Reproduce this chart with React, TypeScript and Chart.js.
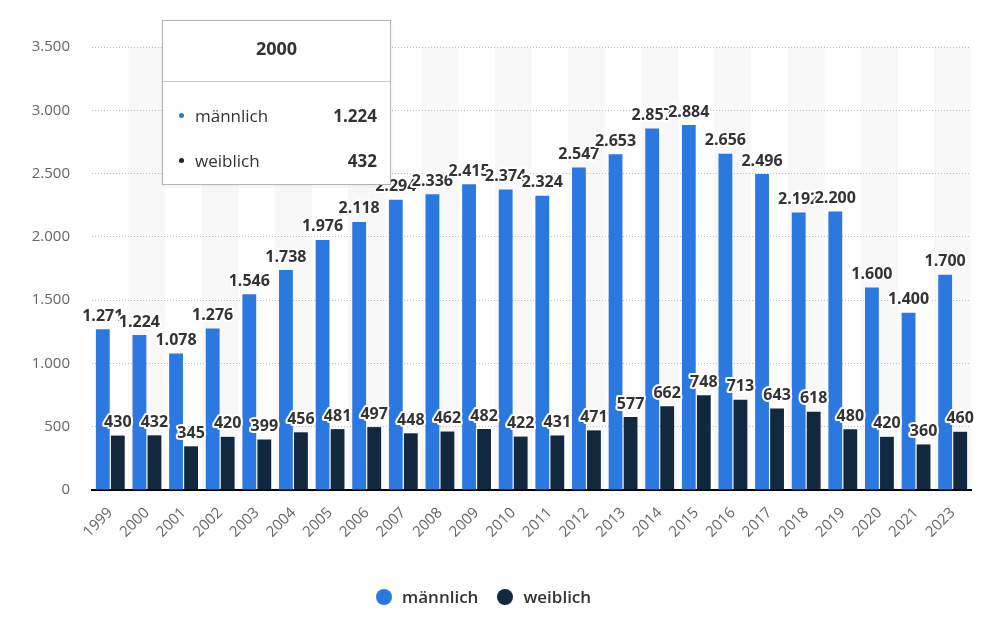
import React, { useEffect, useRef } from 'react';
import { Chart, registerables } from 'chart.js';

Chart.register(...registerables);

const years = ['1999', '2000', '2001', '2002', '2003', '2004', '2005', '2006', '2007', '2008', '2009', '2010', '2011', '2012', '2013', '2014', '2015', '2016', '2017', '2018', '2019', '2020', '2021', '2023'];
const maleValues = [1271, 1224, 1078, 1276, 1546, 1738, 1976, 2118, 2294, 2336, 2415, 2374, 2324, 2547, 2653, 2857, 2884, 2656, 2496, 2192, 2200, 1600, 1400, 1700];
const femaleValues = [430, 432, 345, 420, 399, 456, 481, 497, 448, 462, 482, 422, 431, 471, 577, 662, 748, 713, 643, 618, 480, 420, 360, 460];
const seriesLabels = ['männlich', 'weiblich'];
const seriesColors = ['#2b78e0', '#12283f'];
const tooltipIndex = 1;

const FONT = '"Open Sans", "Noto Sans", sans-serif';

// German thousands separator
const fmt = (v: number) => String(Math.round(v)).replace(/\B(?=(\d{3})+(?!\d))/g, '.');

// light stripes behind every second category
const stripePlugin = {
    id: 'stripes',
    beforeDraw(chart: any) {
        const { ctx, chartArea, scales } = chart;
        const xs = scales.x;
        const w = (xs.right - xs.left) / years.length;
        ctx.save();
        ctx.fillStyle = '#f8f8f8';
        years.forEach((_, i) => {
            if (i % 2 === 1) {
                const cx = xs.getPixelForValue(i);
                ctx.fillRect(cx - w / 2, chartArea.top, w, chartArea.bottom - chartArea.top);
            }
        });
        ctx.restore();
    },
};

// value labels above bars, white halo
const labelPlugin = {
    id: 'valueLabels',
    afterDatasetsDraw(chart: any) {
        const { ctx } = chart;
        ctx.save();
        ctx.font = `bold 16px ${FONT}`;
        ctx.textAlign = 'center';
        ctx.textBaseline = 'bottom';
        ctx.lineJoin = 'round';
        chart.data.datasets.forEach((ds: any, di: number) => {
            const meta = chart.getDatasetMeta(di);
            meta.data.forEach((bar: any, i: number) => {
                const text = fmt(ds.data[i]);
                const y = bar.y - 5;
                ctx.lineWidth = 4;
                ctx.strokeStyle = '#ffffff';
                ctx.strokeText(text, bar.x, y);
                ctx.fillStyle = '#333333';
                ctx.fillText(text, bar.x, y);
            });
        });
        ctx.restore();
    },
};

const BarChart: React.FC = () => {
    const canvasRef = useRef<HTMLCanvasElement>(null);
    const chartRef = useRef<Chart | null>(null);

    useEffect(() => {
        if (!canvasRef.current) return;
        if (chartRef.current) chartRef.current.destroy();

        chartRef.current = new Chart(canvasRef.current, {
            type: 'bar',
            data: {
                labels: years,
                datasets: [
                    { label: seriesLabels[0], data: maleValues, backgroundColor: seriesColors[0] },
                    { label: seriesLabels[1], data: femaleValues, backgroundColor: seriesColors[1] },
                ],
            },
            options: {
                animation: false,
                responsive: true,
                maintainAspectRatio: false,
                layout: { padding: { left: 0, right: 14, top: 47, bottom: 65 } },
                datasets: { bar: { categoryPercentage: 0.82, barPercentage: 0.92 } },
                scales: {
                    x: {
                        grid: { display: false },
                        border: { display: true, color: '#000', width: 2 },
                        ticks: {
                            color: '#666',
                            font: { family: FONT, size: 15 },
                            maxRotation: 45,
                            minRotation: 45,
                            padding: 6,
                        },
                        afterFit: (scale: any) => {
                            scale.height = 70;
                        },
                    },
                    y: {
                        min: 0,
                        max: 3500,
                        grid: { color: '#bbbbbb', drawTicks: false },
                        border: { display: false, dash: [1, 2] },
                        ticks: {
                            stepSize: 500,
                            color: '#666',
                            font: { family: FONT, size: 15 },
                            padding: 22,
                            callback: (v: any) => fmt(Number(v)),
                        },
                        afterFit: (scale: any) => {
                            scale.width = 92;
                        },
                    },
                },
                plugins: {
                    legend: { display: false },
                    tooltip: { enabled: false },
                },
            },
            plugins: [stripePlugin, labelPlugin],
        });

        return () => {
            if (chartRef.current) {
                chartRef.current.destroy();
                chartRef.current = null;
            }
        };
    }, []);

    return <canvas ref={canvasRef} />;
};

// legend below the chart
const Legend: React.FC = () => (
    <div
        style={{
            position: 'absolute',
            left: 376,
            top: 585,
            display: 'flex',
            alignItems: 'center',
            fontFamily: FONT,
            fontSize: 17,
            fontWeight: 600,
            color: '#333',
            lineHeight: '24px',
        }}
    >
        {seriesLabels.map((name, i) => (
            <div key={name} style={{ display: 'flex', alignItems: 'center', marginRight: i === 0 ? 19 : 0 }}>
                <span style={{ width: 16, height: 16, borderRadius: '50%', background: seriesColors[i], marginRight: 10 }} />
                <span>{name}</span>
            </div>
        ))}
    </div>
);

// static tooltip box as in the reference
const TooltipBox: React.FC = () => (
    <div
        style={{
            position: 'absolute',
            left: 162,
            top: 20,
            width: 227,
            height: 163,
            background: '#fff',
            border: '1px solid #b5b5b5',
            boxShadow: '0 1px 3px rgba(0,0,0,0.08)',
            fontFamily: FONT,
            color: '#333',
            boxSizing: 'content-box',
        }}
    >
        <div style={{ height: 60, display: 'flex', alignItems: 'center', justifyContent: 'center', fontWeight: 700, fontSize: 18 }}>
            <span style={{ position: 'relative', top: -3 }}>{years[tooltipIndex]}</span>
        </div>
        <div style={{ borderTop: '1px solid #ccc' }} />
        {[maleValues, femaleValues].map((vals, si) => (
            <div
                key={si}
                style={{
                    height: 45,
                    marginTop: si === 0 ? 11 : 0,
                    display: 'flex',
                    alignItems: 'center',
                    padding: '0 13px 0 16px',
                    fontSize: 17,
                }}
            >
                <span style={{ width: 5, height: 5, borderRadius: '50%', background: seriesColors[si], marginRight: 11 }} />
                <span style={{ flex: 1 }}>{seriesLabels[si]}</span>
                <span style={{ fontWeight: 700 }}>{fmt(vals[tooltipIndex])}</span>
            </div>
        ))}
    </div>
);

export default function App() {
    useEffect(() => {
        document.body.style.margin = '0';
    }, []);

    return (
        <div style={{ position: 'relative', width: 985, height: 625, background: '#fff' }}>
            <BarChart />
            <TooltipBox />
            <Legend />
        </div>
    );
}
